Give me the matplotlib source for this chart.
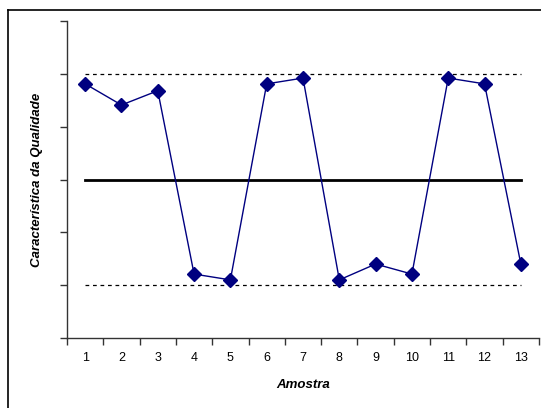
import matplotlib
matplotlib.use("Agg")
import matplotlib.pyplot as plt
import numpy as np

plt.rcParams['font.family'] = ['Liberation Sans', 'DejaVu Sans']

# sample numbers and measured values
amostras = ['1', '2', '3', '4', '5', '6', '7', '8', '9', '10', '11', '12', '13']
valores = [4.81, 4.41, 4.68, 1.21, 1.10, 4.81, 4.92, 1.10, 1.40, 1.21, 4.92, 4.81, 1.40]

# control limits
lsc = 5.0   # upper
lc = 3.0    # center
lic = 1.0   # lower

fig = plt.figure(figsize=(5.41, 4.08), dpi=100)
ax = fig.add_axes([67 / 541, 1 - 338 / 408, (539 - 67) / 541, (338 - 21) / 408])

x = np.arange(len(amostras))

# limit lines
ax.plot([x[0], x[-1]], [lsc, lsc], color='black', linestyle=(0, (3, 3)), linewidth=0.9)
ax.plot([x[0], x[-1]], [lic, lic], color='black', linestyle=(0, (3, 3)), linewidth=0.9)
ax.plot([x[0], x[-1]], [lc, lc], color='black', linewidth=2)

# data series
ax.plot(x, valores, color='#000080', linewidth=1, marker='D', markersize=7,
        markerfacecolor='#000080', markeredgecolor='#000080')

ax.set_xlim(-0.5, len(amostras) - 0.5)
ax.set_ylim(0, 6)

ax.set_xticks(x)
ax.set_xticklabels(amostras, fontsize=9)
ax.set_xticks(np.arange(len(amostras) + 1) - 0.5, minor=True)
ax.tick_params(axis='x', which='major', length=0, pad=10)
ax.tick_params(axis='x', which='minor', length=5, width=1, direction='out', color='#333333')

ax.set_yticks(np.arange(0, 7, 1))
ax.set_yticklabels([])
ax.tick_params(axis='y', length=5, width=1, direction='out', color='#333333')

for side in ['top', 'right']:
    ax.spines[side].set_visible(False)
for side in ['left', 'bottom']:
    ax.spines[side].set_color('#333333')
    ax.spines[side].set_linewidth(1)

ax.set_xlabel('Amostra', fontsize=9.5, fontweight='bold', fontstyle='italic', labelpad=11)
ax.set_ylabel('Característica da Qualidade', fontsize=9.5, fontweight='bold', fontstyle='italic', labelpad=9)

# outer chart border (left and top visible)
fig.add_artist(plt.Line2D([7.5 / 541, 7.5 / 541], [0, 1 - 10 / 408], color='black', linewidth=1.2,
                          transform=fig.transFigure))
fig.add_artist(plt.Line2D([7.5 / 541, 1], [1 - 10 / 408, 1 - 10 / 408], color='black', linewidth=1.2,
                          transform=fig.transFigure))

fig.savefig('out.png', dpi=100)
